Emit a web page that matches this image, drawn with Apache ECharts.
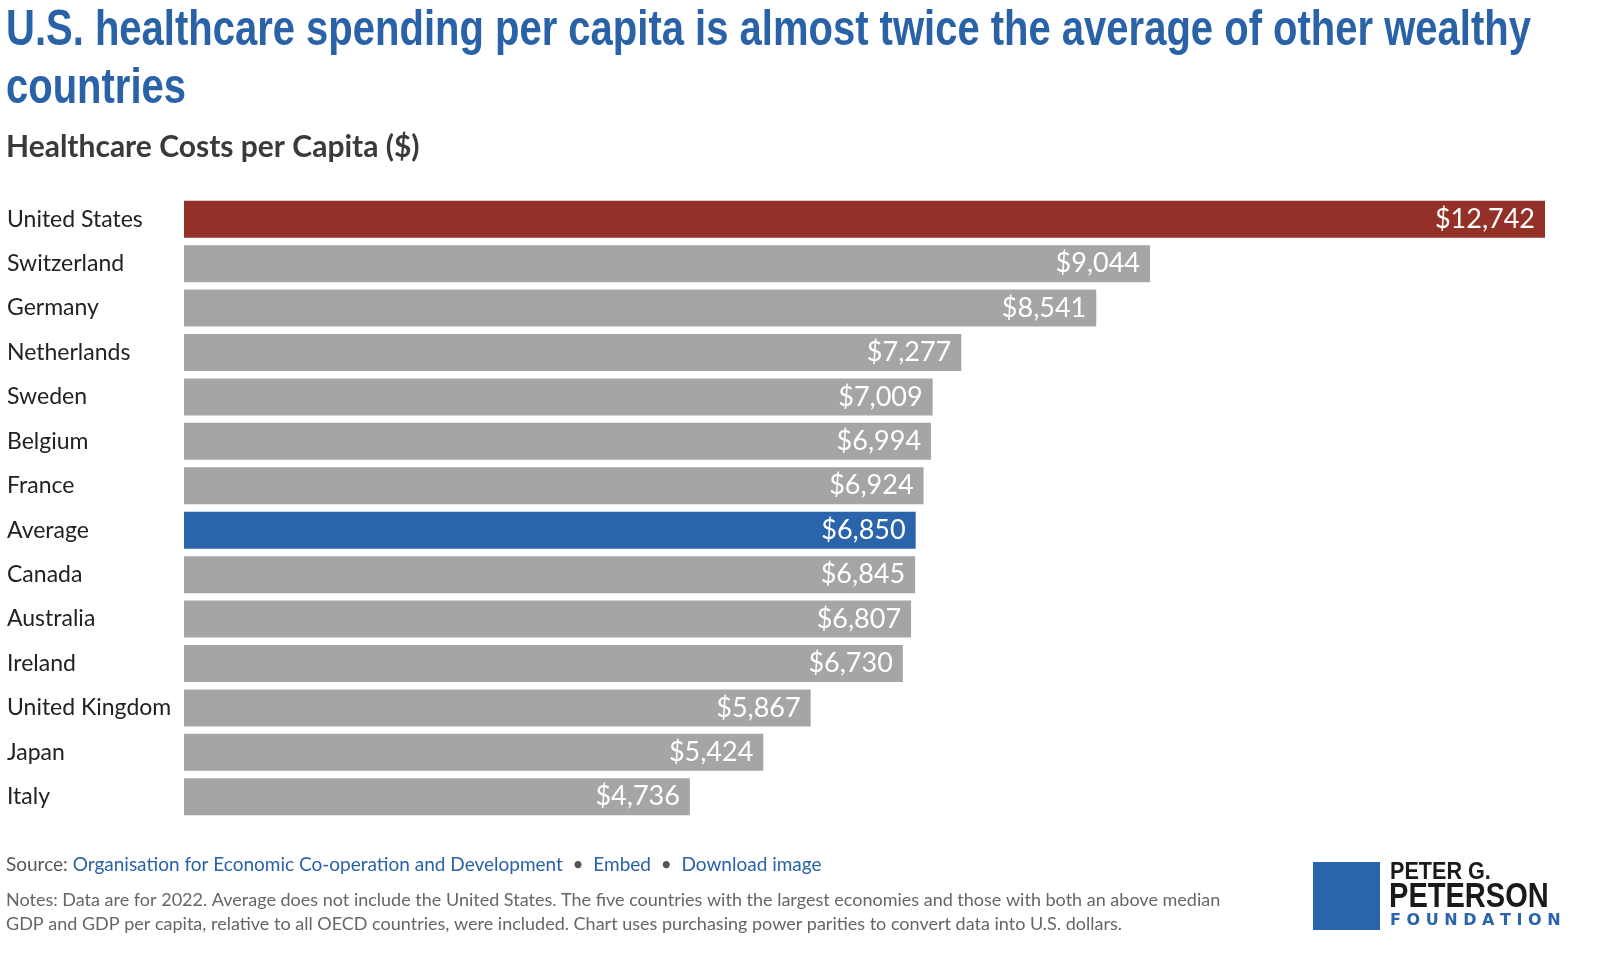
<!DOCTYPE html>
<html><head><meta charset="utf-8">
<script src="https://cdn.jsdelivr.net/npm/echarts@6/dist/echarts.min.js"></script>
<style>html,body{margin:0;padding:0;background:#fff}#main{width:1600px;height:972px}</style>
</head><body><div id="main"></div>
<script>
var countries = ['United States','Switzerland','Germany','Netherlands','Sweden','Belgium','France','Average','Canada','Australia','Ireland','United Kingdom','Japan','Italy'];
var costs = [12742,9044,8541,7277,7009,6994,6924,6850,6845,6807,6730,5867,5424,4736];

var chart = echarts.init(document.getElementById('main'));
var colorFor = function (name) {
    if (name === 'United States') return '#933128';
    if (name === 'Average') return '#2a64aa';
    return '#a5a5a5';
};

var option = {
    animation: false,
    grid: {left: 184, right: 55, top: 197, bottom: 153},
    xAxis: {type: 'value', min: 0, max: 12742, show: false},
    yAxis: {
        type: 'category', data: countries, inverse: true,
        axisLine: {show: false}, axisTick: {show: false},
        axisLabel: {align: 'left', margin: 177, color: '#222', fontFamily: 'Lato', fontSize: 23}
    },
    series: [{
        type: 'bar',
        data: costs.map(function (v, i) { return {value: v, itemStyle: {color: colorFor(countries[i])}}; }),
        barWidth: 37,
        label: {
            show: true, position: 'insideRight', distance: 10,
            color: '#fff', fontFamily: 'Lato', fontSize: 27,
            formatter: function (p) { return '$' + p.value.toLocaleString('en-US'); }
        }
    }],
    graphic: [
        {type: 'text', x: 6, y: 2, scaleX: 0.8, style: {
            text: 'U.S. healthcare spending per capita is almost twice the average of other wealthy\ncountries',
            font: 'bold 50px "Liberation Sans", sans-serif',
            fill: '#2a62a8', lineHeight: 58}},
        {type: 'text', left: 6, top: 132, style: {
            text: 'Healthcare Costs per Capita ($)', font: 'bold 30px Lato, sans-serif', fill: '#3a3a3a'}},
        {type: 'text', left: 6, top: 855, style: {
            rich: {
                g: {fill: '#555', font: '19px Lato'},
                b: {fill: '#2a62a8', font: '19px Lato'}
            },
            text: '{g|Source: }{b|Organisation for Economic Co-operation and Development}{g|  •  }{b|Embed}{g|  •  }{b|Download image}'}},
        {type: 'text', left: 6, top: 888, style: {
            text: 'Notes: Data are for 2022. Average does not include the United States. The five countries with the largest economies and those with both an above median\nGDP and GDP per capita, relative to all OECD countries, were included. Chart uses purchasing power parities to convert data into U.S. dollars.',
            font: '18px Lato', fill: '#666', lineHeight: 24}},
        {type: 'rect', left: 1313, top: 862, shape: {width: 67, height: 68}, style: {fill: '#2a64aa'}},
        {type: 'text', x: 1390, y: 860, scaleX: 0.9, style: {text: 'PETER G.', font: 'bold 24px "Liberation Sans", sans-serif', fill: '#1a1a1a'}},
        {type: 'text', x: 1389, y: 880, scaleX: 0.83, style: {text: 'PETERSON', font: 'bold 35px "Liberation Sans", sans-serif', fill: '#1a1a1a'}},
        {type: 'text', x: 1390, y: 913, style: {text: 'F O U N D A T I O N', font: 'bold 16px "DejaVu Sans", sans-serif', fill: '#2a64aa'}}
    ]
};
chart.setOption(option);
</script></body></html>
